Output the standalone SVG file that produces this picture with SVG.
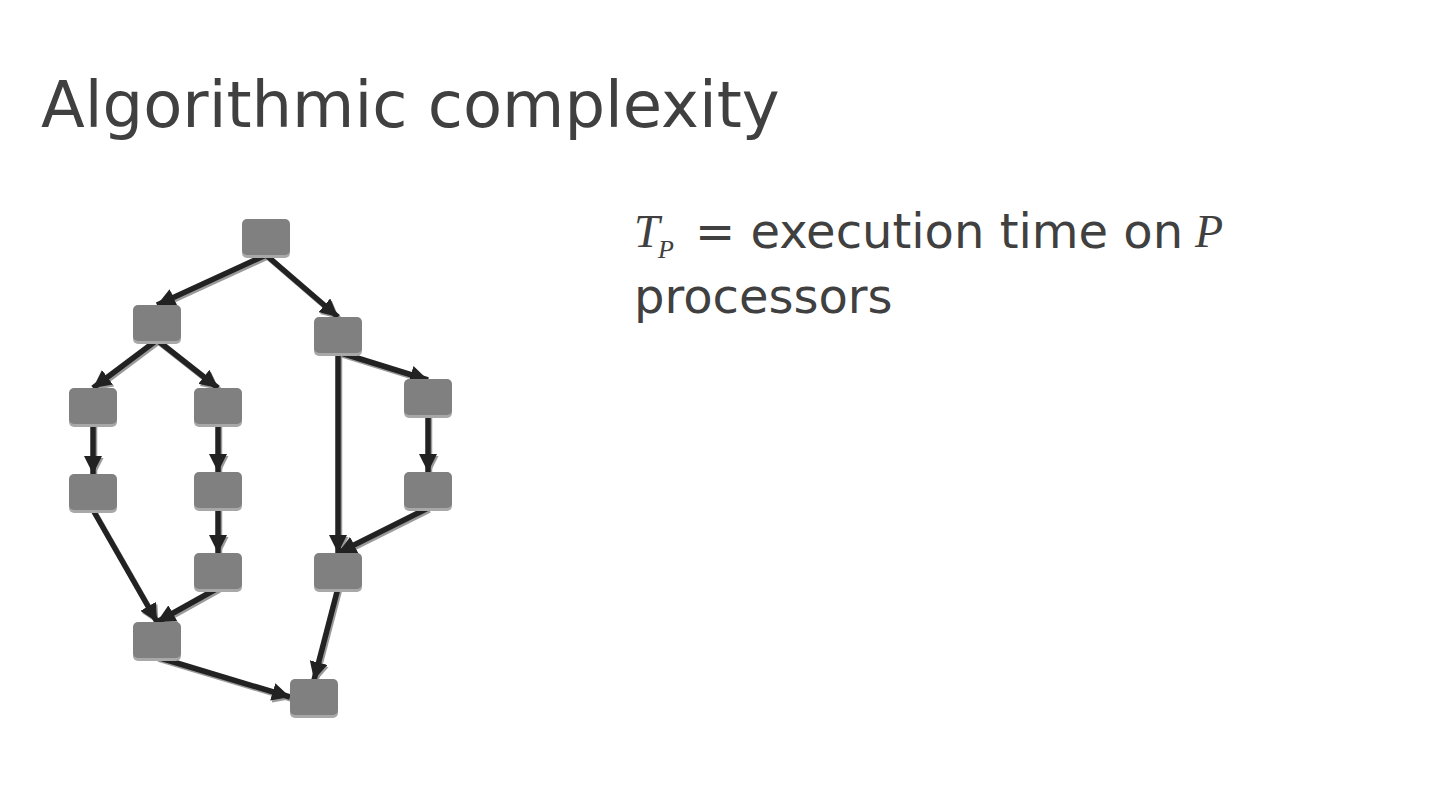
<svg xmlns="http://www.w3.org/2000/svg" width="1440" height="811" viewBox="0 0 1440 811">
<defs>
<style>
.t{font-family:"DejaVu Sans","Open Sans",sans-serif;fill:#404040}
.m{font-family:"Liberation Serif","DejaVu Serif",serif;font-style:italic;fill:#404040}
.nd{fill:#808080}
.sh{fill:#a8a8a8}
.e{stroke:#222;stroke-width:5.5;fill:none;marker-end:url(#ah)}
.es{stroke:#9a9a9a;stroke-width:5.5;fill:none;marker-end:url(#ahs)}
</style>
<marker id="ah" markerWidth="18" markerHeight="18" viewBox="0 0 10 10" refX="10" refY="5" orient="auto" markerUnits="userSpaceOnUse" preserveAspectRatio="none">
<path d="M0,0 L10,5 L0,10 Z" fill="#222"/>
</marker>
<marker id="ahs" markerWidth="18" markerHeight="18" viewBox="0 0 10 10" refX="10" refY="5" orient="auto" markerUnits="userSpaceOnUse" preserveAspectRatio="none">
<path d="M0,0 L10,5 L0,10 Z" fill="#9a9a9a"/>
</marker>
<symbol id="box" overflow="visible">
<rect class="sh" x="-24" y="-15" width="48" height="36" rx="5"/>
<rect class="nd" x="-24" y="-18" width="48" height="36" rx="5"/>
</symbol>
</defs>
<rect width="1440" height="811" fill="#fff"/>
<text class="t" x="41" y="127" font-size="64">Algorithmic complexity</text>
<text class="m" x="634" y="247" font-size="46">T</text>
<text class="m" x="658" y="258" font-size="26">P</text>
<text class="t" x="695" y="248" font-size="48">= execution time on</text>
<text class="m" x="1195" y="247" font-size="46">P</text>
<text class="t" x="634" y="313" font-size="48">processors</text>
<g id="connectors">
<g transform="translate(1.5,2)">
<path class="es" d="M266,255 L157,305"/>
<path class="es" d="M266,255 L338,317"/>
<path class="es" d="M157,340 L93,388"/>
<path class="es" d="M157,340 L218,388"/>
<path class="es" d="M338,352 L428,380"/>
<path class="es" d="M338,352 L338,553"/>
<path class="es" d="M93,425 L93,474"/>
<path class="es" d="M218,425 L218,472"/>
<path class="es" d="M428,415 L428,472"/>
<path class="es" d="M93,510 L157,622"/>
<path class="es" d="M218,508 L218,553"/>
<path class="es" d="M428,508 L338,553"/>
<path class="es" d="M218,588 L157,622"/>
<path class="es" d="M338,588 L314,680"/>
<path class="es" d="M157,657 L290,697"/>
</g>
<path class="e" d="M266,255 L157,305"/>
<path class="e" d="M266,255 L338,317"/>
<path class="e" d="M157,340 L93,388"/>
<path class="e" d="M157,340 L218,388"/>
<path class="e" d="M338,352 L428,380"/>
<path class="e" d="M338,352 L338,553"/>
<path class="e" d="M93,425 L93,474"/>
<path class="e" d="M218,425 L218,472"/>
<path class="e" d="M428,415 L428,472"/>
<path class="e" d="M93,510 L157,622"/>
<path class="e" d="M218,508 L218,553"/>
<path class="e" d="M428,508 L338,553"/>
<path class="e" d="M218,588 L157,622"/>
<path class="e" d="M338,588 L314,680"/>
<path class="e" d="M157,657 L290,697"/>
</g>
<g id="n1"><use href="#box" x="266" y="237"/></g>
<g id="n2"><use href="#box" x="157" y="323"/></g>
<g id="n3"><use href="#box" x="338" y="335"/></g>
<g id="n4"><use href="#box" x="93" y="406"/></g>
<g id="n5"><use href="#box" x="218" y="406"/></g>
<g id="n6"><use href="#box" x="428" y="397"/></g>
<g id="n7"><use href="#box" x="93" y="492"/></g>
<g id="n8"><use href="#box" x="218" y="490"/></g>
<g id="n9"><use href="#box" x="428" y="490"/></g>
<g id="n10"><use href="#box" x="218" y="571"/></g>
<g id="n11"><use href="#box" x="338" y="571"/></g>
<g id="n12"><use href="#box" x="157" y="640"/></g>
<g id="n13"><use href="#box" x="314" y="697"/></g>
</svg>
